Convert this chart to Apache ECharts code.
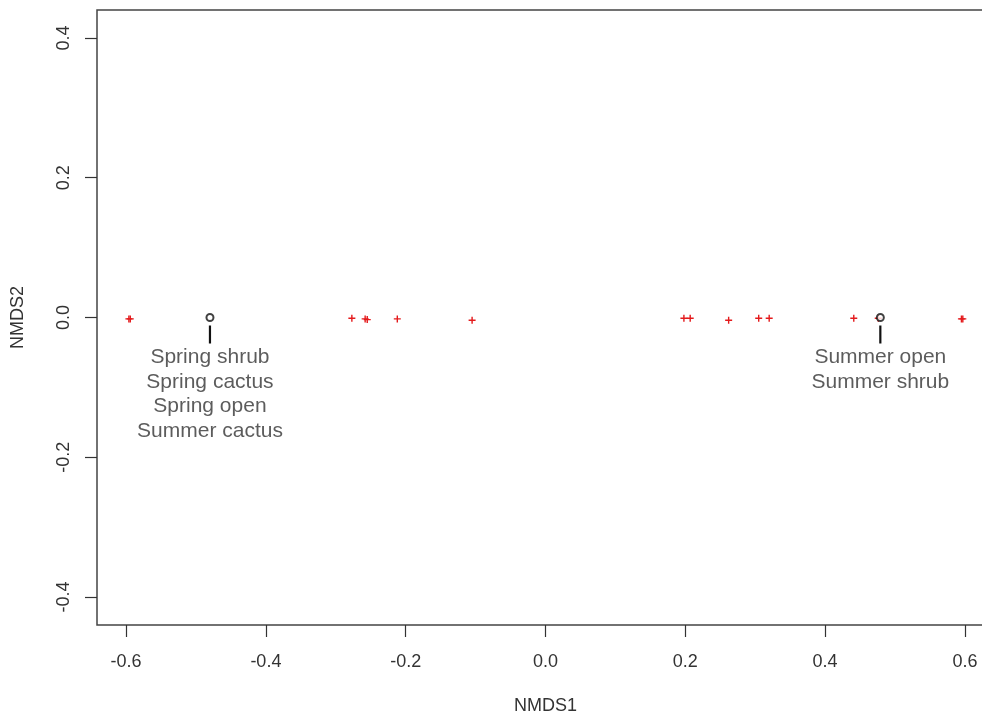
<!DOCTYPE html>
<html>
<head>
<meta charset="utf-8">
<script src="https://cdn.jsdelivr.net/npm/echarts@6/dist/echarts.min.js"></script>
<style>html,body{margin:0;padding:0;background:#fff;overflow:hidden;}#c{width:1000px;height:715px;}</style>
</head>
<body>
<div id="c"></div>
<script>
// Site scores (red crosses)
const siteX = [-0.596, -0.594, -0.277, -0.258, -0.255, -0.212, -0.105, 0.198, 0.207, 0.262, 0.305, 0.320, 0.441, 0.476, 0.595, 0.597];
const siteY = [-0.002, -0.002, -0.001, -0.002, -0.003, -0.002, -0.004, -0.001, -0.001, -0.004, -0.001, -0.001, -0.001, -0.001, -0.002, -0.002];
// Group centroids (black circles) and their labels
const groupX = [-0.480, 0.479];
const groupY = [0.000, 0.000];
const groupLabels = [
  ["Spring shrub", "Spring cactus", "Spring open", "Summer cactus"],
  ["Summer open", "Summer shrub"]
];
const xTicks = [-0.6, -0.4, -0.2, 0.0, 0.2, 0.4, 0.6];
const yTicks = [-0.4, -0.2, 0.0, 0.2, 0.4];

const chart = echarts.init(document.getElementById('c'));
const axisText = {color: '#333', fontFamily: 'Liberation Sans', fontSize: 18};
const plus = 'path://M0,4H4V0H6V4H10V6H6V10H4V6H0Z';

chart.setOption({
  animation: false,
  grid: {left: 97, top: 10, width: 897, height: 615, outerBoundsMode: 'none', containLabel: false, show: true, borderColor: '#444', borderWidth: 1.5, backgroundColor: 'transparent'},
  xAxis: {
    type: 'value', min: -0.6416, max: 0.6416, position: 'bottom',
    name: 'NMDS1', nameLocation: 'middle', nameGap: 72,
    nameTextStyle: axisText,
    axisLine: {show: false, onZero: false},
    splitLine: {show: false},
    axisTick: {show: true, inside: false, length: 12, lineStyle: {color: '#333', width: 1.2}, customValues: xTicks},
    axisLabel: Object.assign({margin: 28, customValues: xTicks, formatter: v => v.toFixed(1)}, axisText)
  },
  yAxis: {
    type: 'value', min: -0.44, max: 0.44, position: 'left',
    name: 'NMDS2', nameLocation: 'middle', nameGap: 70,
    nameTextStyle: axisText,
    axisLine: {show: false, onZero: false},
    splitLine: {show: false},
    axisTick: {show: true, inside: false, length: 12, lineStyle: {color: '#333', width: 1.2}, customValues: yTicks},
    axisLabel: Object.assign({margin: 24, rotate: 90, customValues: yTicks, formatter: v => v.toFixed(1)}, axisText)
  },
  series: [
    {
      type: 'scatter',
      data: siteX.map((x, i) => [x, siteY[i]]),
      symbol: plus, symbolSize: 7,
      itemStyle: {color: '#e41a1c', opacity: 1},
      z: 2
    },
    {
      type: 'custom',
      data: groupX.map((x, i) => [x, groupY[i]]),
      renderItem: function (params, api) {
        const p = api.coord([api.value(0), api.value(1)]);
        return {
          type: 'line',
          shape: {x1: p[0], y1: p[1] + 8, x2: p[0], y2: p[1] + 26},
          style: {stroke: '#111', lineWidth: 2.2}
        };
      },
      z: 3
    },
    {
      type: 'scatter',
      data: groupX.map((x, i) => ({value: [x, groupY[i]], lines: groupLabels[i]})),
      symbol: 'circle', symbolSize: 7,
      itemStyle: {color: '#fff', borderColor: '#111', borderWidth: 2},
      label: {
        show: true, position: 'bottom', distance: 23,
        formatter: p => p.data.lines.join('\n'),
        fontFamily: 'Liberation Sans', fontSize: 21, lineHeight: 24.5, color: '#333', align: 'center'
      },
      z: 4
    }
  ]
});
</script>
</body>
</html>
